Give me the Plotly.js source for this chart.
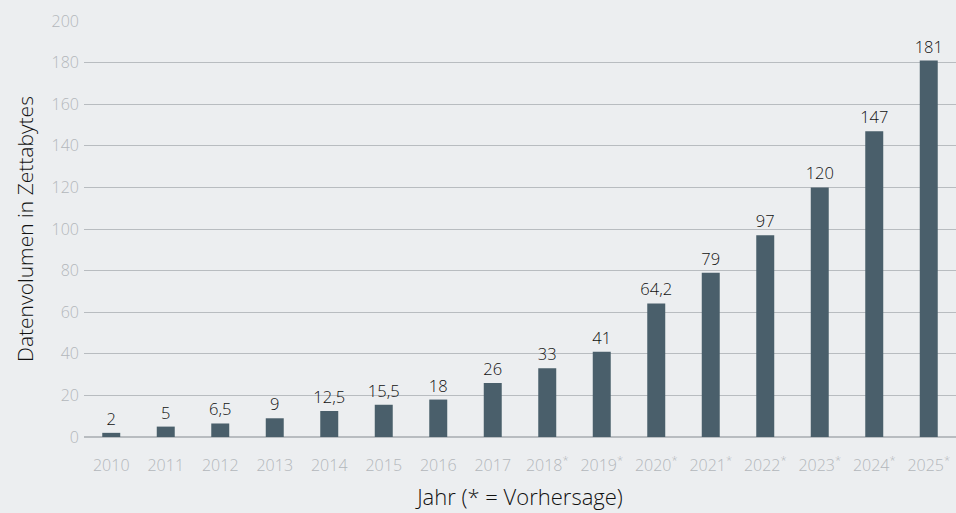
<!DOCTYPE html>
<html><head><meta charset="utf-8">
<script src="https://cdn.plot.ly/plotly-3.0.1.min.js"></script>
<style>html,body{margin:0;padding:0;background:#eceef0;}#chart{width:956px;height:513px;}</style>
</head><body><div id="chart"></div>
<script>
const years = ["2010","2011","2012","2013","2014","2015","2016","2017","2018<sup>*</sup>","2019<sup>*</sup>","2020<sup>*</sup>","2021<sup>*</sup>","2022<sup>*</sup>","2023<sup>*</sup>","2024<sup>*</sup>","2025<sup>*</sup>"];
const volumes = [2, 5, 6.5, 9, 12.5, 15.5, 18, 26, 33, 41, 64.2, 79, 97, 120, 147, 181];
const yTicks = [0, 20, 40, 60, 80, 100, 120, 140, 160, 180, 200];

const font = "'Open Sans', 'Noto Sans', sans-serif";
Plotly.newPlot('chart', [{
  type: 'bar',
  x: years,
  y: volumes,
  marker: {color: '#4a5f6b'},
  texttemplate: '%{y}',
  textposition: 'outside',
  constraintext: 'none',
  cliponaxis: false,
  textfont: {family: font, size: 16.5, color: '#111', weight: 300},
  hoverinfo: 'skip'
}], {
  width: 956, height: 513,
  paper_bgcolor: '#eceef0', plot_bgcolor: '#eceef0',
  separators: ',.',
  margin: {l: 84, r: 0, t: 21, b: 76},
  bargap: 0.67,
  showlegend: false,
  font: {family: font, weight: 300},
  xaxis: {
    type: 'category', showgrid: false, zeroline: false, showline: false,
    ticks: '', ticklabelstandoff: 17, tickfont: {size: 16, color: '#b3b7bb', weight: 300},
    title: {text: 'Jahr (* = Vorhersage)', font: {size: 22, color: '#111', weight: 300}, standoff: 14}
  },
  yaxis: {
    range: [0, 200], tickvals: yTicks, showgrid: true, gridcolor: '#b8bcc0', gridwidth: 1,
    zeroline: true, zerolinecolor: '#b8bcc0', zerolinewidth: 2,
    ticks: '', ticklabelstandoff: 4, tickfont: {size: 16, color: '#b3b7bb', weight: 300},
    title: {text: 'Datenvolumen in Zettabytes', font: {size: 21, color: '#111', weight: 300}, standoff: 12}
  }
}, {staticPlot: true, displayModeBar: false});
</script></body></html>
